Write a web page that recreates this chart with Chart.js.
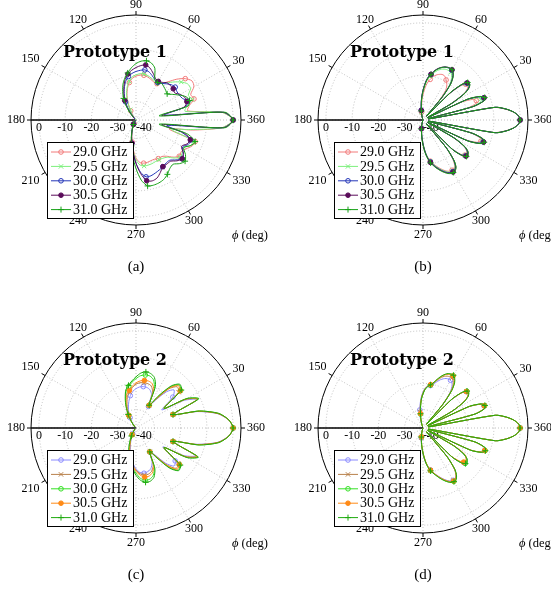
<!DOCTYPE html>
<html>
<head>
<meta charset="utf-8">
<script src="https://cdn.jsdelivr.net/npm/chart.js@4.4.1/dist/chart.umd.min.js"></script>
<style>
  body { margin: 0; width: 551px; height: 590px; overflow: hidden; background: #fff; position: relative; }
  canvas { position: absolute; }
  .cap { position: absolute; width: 40px; margin-left: -20px; text-align: center; font: 15px "Liberation Serif", serif; line-height: 16px; }
</style>
</head>
<body>
<canvas id="pa" width="280" height="300" style="left:0;top:0"></canvas>
<canvas id="pb" width="271" height="300" style="left:280px;top:0"></canvas>
<canvas id="pc" width="280" height="290" style="left:0;top:300px"></canvas>
<canvas id="pd" width="271" height="290" style="left:280px;top:300px"></canvas>
<div class="cap" style="left:136px;top:258px">(a)</div>
<div class="cap" style="left:423px;top:258px">(b)</div>
<div class="cap" style="left:136px;top:566px">(c)</div>
<div class="cap" style="left:423px;top:566px">(d)</div>
<script>
const freqs = ['29.0 GHz', '29.5 GHz', '30.0 GHz', '30.5 GHz', '31.0 GHz'];
const radialTicks = [-40, -30, -20, -10, 0];
const angleTicks = [30, 60, 90, 120, 150, 180, 210, 240, 270, 300, 330, 360];

// azimuth phi in degrees for the coarse cuts (a, c) and the fine cuts (b, d)
const phiCoarse = [135, 130, 125, 120, 115, 110, 105, 100, 95, 90, 85, 80, 75, 70, 65, 60, 55, 50, 45, 40,
  35, 30, 25, 20, 15, 10, 5, 0, -5, -10, -15, -20, -25, -30, -35, -40, -45, -50, -55, -60,
  -65, -70, -75, -80, -85, -90, -95, -100, -105, -110, -115, -120, -125, -130, -135];
const phiFine = [110, 107.5, 105, 102.5, 100, 97.5, 95, 92.5, 90, 87.5, 85, 82.5, 80, 77.5, 75, 72.5, 70, 67.5,
  65, 62.5, 60, 57.5, 55, 52.5, 50, 47.5, 45, 42.5, 40, 37.5, 35, 32.5, 30, 27.5, 25, 22.5, 20, 17.5, 15, 12.5,
  10, 7.5, 5, 2.5, 0, -2.5, -5, -7.5, -10, -12.5, -15, -17.5, -20, -22.5, -25, -27.5, -30, -32.5, -35, -37.5,
  -40, -42.5, -45, -47.5, -50, -52.5, -55, -57.5, -60, -62.5, -65, -67.5, -70, -72.5, -75, -77.5, -80, -82.5,
  -85, -87.5, -90, -92.5, -95, -97.5, -100, -102.5, -105, -107.5, -110];

// Prototype 1, coarse cut (a), normalised gain in dB
const a29_0 = [-37,-36.5,-35,-33,-30,-27,-24.5,-22.5,-21,-20.3,-19.8,-19.7,-20,-20.5,-21,-21,-20,-18,-15,-12.5,
  -11,-11.5,-14,-13.5,-16,-17,-4,0,-4,-15,-24,-13,-13.5,-15,-16,-15.5,-17,-19,
  -20,-20,-20.5,-20.5,-20.3,-20.3,-20.8,-22.5,-25.5,-28.5,-31,-33,-34.5,-35.5,-36,-36.5,-37];
const a29_5 = [-37,-36.5,-34.5,-32.5,-29.5,-26.5,-24,-22,-20.5,-19.8,-19.3,-19.2,-19.5,-20,-20.5,-20.5,-19.8,-18.5,-16.5,-14.5,
  -13,-13,-15,-14.2,-17,-18,-4,0,-4,-16,-23,-13.5,-14,-16,-15.5,-15,-16.5,-18.5,
  -19.2,-19.5,-19.5,-19.3,-19.2,-19.2,-19.8,-21.8,-25,-28,-30.5,-32.5,-34,-35.2,-36,-36.5,-37];
const a30_0 = [-36.5,-35,-32,-29,-26.5,-24,-21.8,-20.2,-19.2,-18.5,-18,-17.6,-18,-19,-20,-20.5,-20,-19,-18,-17.5,
  -18,-18,-17.5,-16,-17.5,-26,-3.5,0,-3.5,-25,-19,-14.8,-15,-16.5,-15,-14,-15.5,-17,
  -17,-16.5,-16,-15.5,-15,-15,-17,-20.5,-24.5,-28,-30.5,-32.5,-34,-35.2,-36,-36.5,-37];
const a30_5 = [-36,-34,-31,-28.4,-26,-23.5,-21,-19.2,-18,-17,-16.2,-15.7,-16.5,-18,-19.5,-20,-19.5,-18.5,-18.5,-18.5,
  -19,-17.5,-16.5,-16.4,-18,-27,-3.5,0,-3.5,-27,-18,-15,-15.5,-17,-15,-14,-15,-16.5,
  -16.5,-16.5,-15,-13.5,-13,-13.5,-16.5,-20.5,-24.5,-28,-30.5,-32.5,-34,-35,-35.8,-36.3,-36.6];
const a31_0 = [-35.5,-33.5,-30.5,-27.5,-25,-22.5,-20.5,-18.8,-17,-15.5,-14.5,-14.1,-14.5,-16,-20,-20.5,-20,-20.5,-21,-21.5,
  -20,-18,-16,-15.3,-16.5,-28,-3,0,-3,-28,-17,-13,-14,-16,-14,-12.6,-13.5,-15,
  -14.5,-13.1,-12,-11.5,-11.3,-11.5,-14,-18.5,-23,-27,-30,-32.5,-34,-35,-35.8,-36.3,-36.6];

// Prototype 1, fine cut (b)
const b29_0 = [-37,-36.7,-35.9,-35,-34,-32.8,-31,-29.2,-27.4,-25.6,-23.8,-22.4,-21.3,-20.3,-19.5,-18.9,-18.5,-18.2,-18.2,-18.6,
  -19.4,-20.2,-21.2,-23,-28,-35,-23.5,-18,-15.8,-15.4,-16.4,-19,-25.5,-35,-21,-16.5,-15.4,-15.6,-19.5,-35,-9.5,-5.3,-2.4,-0.6,0,
  -0.6,-2.4,-5.3,-9.5,-35,-18.6,-14,-13.5,-14.8,-19.3,-35,-24,-18.8,-16.8,-16.1,-16.2,-17.8,-21.8,-35,-23.8,
  -18.5,-16,-15.1,-14.9,-15,-15.5,-16.3,-17.2,-18.2,-19.1,-20.1,-21.1,-22.4,-24,-26,-28,-29.8,-31.4,-32.8,-33.8,-34.8,-35.6,-36.3,-37];
const b29_5 = [-37,-36.6,-35.7,-34.7,-33.7,-32.3,-30.3,-28.3,-26.3,-24.4,-22.5,-21,-20,-18.8,-17.8,-17,-16.4,-16,-15.8,-15.8,
  -16,-16.7,-18.2,-20.8,-26.5,-35,-23,-17.5,-15.4,-15,-16,-18.6,-25,-35,-19.5,-15,-13.5,-13.9,-18.2,-35,-9.3,-5.2,-2.4,-0.6,0,
  -0.6,-2.4,-5.2,-9.3,-35,-18.3,-13.6,-13,-14.3,-18.8,-35,-23.8,-18.6,-16.6,-15.9,-16,-17.6,-21.6,-35,-23.6,
  -18.2,-15.7,-14.8,-14.6,-14.7,-15.2,-16,-16.9,-17.9,-18.9,-20,-21.1,-22.5,-24.2,-26.2,-28.2,-30,-31.6,-33,-34,-34.9,-35.7,-36.3,-37];
const b30_0 = [-37,-36.4,-35.4,-34.3,-33.2,-31.6,-29.6,-27.6,-25.6,-23.6,-21.7,-20.2,-19.4,-18.1,-17.1,-16.3,-15.7,-15.2,-15,-14.9,
  -15.1,-15.8,-17.3,-20,-26,-35,-22.8,-17.2,-15.2,-14.8,-15.8,-18.4,-24.8,-35,-18.5,-13.9,-12.4,-12.8,-17.4,-35,-9.2,-5.1,-2.3,-0.6,0,
  -0.6,-2.3,-5.1,-9.2,-35,-17.9,-13.2,-12.6,-13.9,-18.4,-35,-23.5,-18.4,-16.4,-15.7,-15.8,-17.4,-21.4,-35,-23.4,
  -17.9,-15.4,-14.5,-14.3,-14.4,-14.9,-15.7,-16.6,-17.6,-18.6,-19.7,-20.8,-22.2,-23.9,-25.9,-27.9,-29.7,-31.3,-32.7,-33.7,-34.7,-35.6,-36.3,-37];
const b30_5 = [-37,-36.5,-35.5,-34.5,-33.3,-31.8,-29.8,-27.8,-25.8,-23.8,-21.8,-20.3,-19.3,-18,-17,-16.2,-15.6,-15.1,-14.8,-14.7,
  -14.9,-15.6,-17.2,-19.8,-25.5,-35,-22.5,-17,-15,-14.6,-15.6,-18.2,-24.5,-35,-18.3,-13.7,-12.2,-12.6,-17.2,-35,-9.1,-5.1,-2.3,-0.6,0,
  -0.6,-2.3,-5.1,-9.1,-35,-17.7,-13,-12.4,-13.7,-18.2,-35,-23.3,-18.2,-16.2,-15.5,-15.6,-17.2,-21.2,-35,-23.2,
  -17.7,-15.2,-14.3,-14.1,-14.2,-14.7,-15.5,-16.4,-17.4,-18.4,-19.5,-20.6,-22,-23.7,-25.7,-27.7,-29.5,-31.2,-32.6,-33.6,-34.6,-35.5,-36.2,-37];
const b31_0 = [-37,-36.5,-35.5,-34.5,-33.5,-32,-30,-28,-26,-24,-22,-20.5,-19.5,-18.2,-17.2,-16.4,-15.7,-15.2,-14.9,-14.8,
  -14.9,-15.6,-17,-19.5,-25,-35,-22,-16.8,-14.8,-14.5,-15.5,-18,-24,-35,-18,-13.5,-12,-12.5,-17,-35,-9,-5,-2.3,-0.6,0,
  -0.6,-2.3,-5,-9,-35,-17.5,-12.8,-12.2,-13.5,-18,-35,-23,-18,-16,-15.3,-15.4,-17,-21,-35,-23,
  -17.5,-15,-14.1,-13.9,-14,-14.5,-15.3,-16.2,-17.2,-18.2,-19.3,-20.4,-21.8,-23.5,-25.5,-27.5,-29.3,-31,-32.5,-33.5,-34.5,-35.5,-36.2,-37];

// Prototype 2, coarse cut (c)
const c29_0 = [-36.5,-35.8,-34.5,-32.5,-30.5,-28.5,-26.5,-24.5,-23,-22,-21.3,-21,-21,-21.5,-23,-27.5,-24,-19,-16.5,-18.7,
  -25,-16,-11.5,-22,-12.8,-5.5,-1.6,0,-1.6,-5.5,-13,-22,-12,-16,-24.5,-17.5,-16.5,-19.5,
  -24.5,-26.5,-22.5,-20.5,-19.8,-19.5,-20,-21.5,-23.5,-26,-28.5,-31,-33,-34.5,-35.5,-36.2,-36.7];
const c29_5 = [-36.5,-35.5,-34,-32,-29.5,-27,-24.5,-23,-21.5,-20.3,-19.7,-19.5,-19.5,-20,-22,-27,-23.5,-17.5,-14.8,-15.8,
  -24,-15,-11.3,-22,-12.5,-5.3,-1.6,0,-1.6,-5.3,-12.7,-22,-11.5,-15.3,-24,-16,-15.3,-18.5,
  -24,-26.5,-21.5,-19.5,-18.8,-18.8,-19.5,-21,-23,-25.5,-28,-30.5,-32.5,-34.2,-35.3,-36,-36.5];
const c30_0 = [-36.5,-35.5,-33.8,-31.5,-28.5,-25.5,-22.5,-21,-19.5,-18.2,-17,-16.5,-16.5,-17.5,-20.5,-27,-22.5,-16.5,-13.8,-14.8,
  -24,-14.5,-10.8,-22,-12,-5,-1.5,0,-1.5,-5,-12.2,-22,-11,-14.5,-24,-15.3,-14.3,-17.5,
  -23.5,-26.5,-20.5,-17.8,-16.8,-16.8,-17.8,-19.8,-22,-24.5,-27,-29.5,-32,-34,-35.2,-36,-36.5];
const c30_5 = [-36.5,-35.5,-33.5,-31.4,-28.5,-26,-23.5,-22.5,-21,-19.8,-19,-18.6,-18.5,-19,-21,-27,-23,-17,-14.2,-15,
  -24,-15,-11,-22,-12.3,-5.2,-1.5,0,-1.5,-5.2,-12.5,-22,-11.2,-15,-24,-15.5,-14.8,-18,
  -23.5,-26.5,-21,-18.8,-18,-18,-19,-20.5,-22.5,-25,-27.5,-30,-32.3,-34,-35.2,-36,-36.5];
const c31_0 = [-36.5,-35.5,-33.5,-31,-28,-25,-22,-20.5,-19,-17.5,-16,-15.3,-15.5,-16.5,-19.5,-27,-22,-16,-13.4,-14.5,
  -24,-14.5,-10.6,-22,-12,-5,-1.5,0,-1.5,-5,-12,-22,-10.8,-14.5,-24,-15,-14,-17,
  -23,-26.5,-20,-17,-16,-16,-17,-19,-21.5,-24,-26.5,-29,-31.5,-33.5,-35,-36,-36.5];

// Prototype 2, fine cut (d)
const d29_0 = [-35.5,-34.5,-33,-31.5,-30,-28.3,-26.5,-24.8,-23.3,-22,-21.2,-20.8,-20.6,-20,-19.2,-18.3,-17.4,-16.7,-16.2,-16,
  -16,-16.5,-17.8,-20.3,-26,-35,-22,-17.4,-15.5,-15.3,-16.2,-18.8,-24.5,-35,-18,-13.4,-12.3,-12.6,-16.8,-35,-9.2,-5.1,-2.3,-0.6,0,
  -0.6,-2.3,-5.1,-9.2,-35,-16.8,-12.5,-12,-13,-17.2,-35,-23.7,-18.7,-16.8,-16.1,-16.2,-17.7,-21.7,-35,-22.8,
  -17.4,-15.2,-14.2,-14,-14.2,-14.9,-15.8,-16.8,-17.8,-18.8,-19.8,-20.8,-22,-23.5,-25.2,-27,-28.8,-30.4,-32,-33.2,-34.3,-35.2,-36,-36.7];
const d29_5 = [-36,-35,-33.8,-32.3,-30.8,-28.9,-27,-25.1,-23.6,-22.2,-21.3,-20.7,-20.4,-19.7,-18.7,-17.6,-16.5,-15.7,-15.2,-15,
  -15,-15.6,-17,-19.8,-25.5,-35,-21.8,-17.2,-15.3,-15.2,-16.1,-18.6,-24.2,-35,-17.8,-13.2,-12.1,-12.5,-16.7,-35,-9.1,-5.1,-2.3,-0.6,0,
  -0.6,-2.3,-5.1,-9.1,-35,-16.7,-12.4,-11.9,-13,-17.1,-35,-23.6,-18.6,-16.8,-16.3,-16.5,-18,-21.8,-35,-22.7,
  -17.2,-15,-14,-13.8,-14,-14.7,-15.6,-16.6,-17.6,-18.6,-19.6,-20.6,-21.9,-23.5,-25.3,-27.2,-29,-30.6,-32.1,-33.3,-34.4,-35.3,-36.1,-36.8];
const d30_0 = [-36.6,-35.6,-34.6,-33.1,-31.6,-29.6,-27.6,-25.6,-24.1,-22.6,-21.6,-20.9,-20.4,-19.6,-18.5,-17.2,-16,-15,-14.3,-14,
  -14,-14.7,-16.2,-19.2,-25.2,-35,-21.6,-17.1,-15.2,-15.1,-16.1,-18.6,-24.1,-35,-17.6,-13.1,-12,-12.4,-16.6,-35,-9,-5,-2.3,-0.6,0,
  -0.6,-2.3,-5,-9,-35,-16.6,-12.3,-11.8,-12.9,-17.1,-35,-23.6,-18.6,-16.6,-15.9,-16,-17.6,-21.6,-35,-22.6,
  -17.1,-14.8,-13.7,-13.5,-13.7,-14.4,-15.3,-16.3,-17.4,-18.5,-19.5,-20.5,-21.9,-23.6,-25.6,-27.6,-29.4,-30.9,-32.4,-33.6,-34.6,-35.5,-36.2,-37];
const d30_5 = [-36.5,-35.5,-34.4,-32.9,-31.4,-29.4,-27.4,-25.4,-23.9,-22.4,-21.4,-20.7,-20.2,-19.5,-18.4,-17.2,-16,-15,-14.4,-14.1,
  -14.1,-14.8,-16.3,-19.3,-25.3,-35,-21.8,-17.3,-15.4,-15.3,-16.3,-18.8,-24.3,-35,-17.8,-13.3,-12.2,-12.6,-16.8,-35,-9.1,-5.1,-2.3,-0.6,0,
  -0.6,-2.3,-5.1,-9.1,-35,-16.8,-12.5,-12,-13.1,-17.3,-35,-22.8,-17.8,-17,-16.5,-16.8,-18.5,-21.8,-35,-22.8,
  -17.3,-15,-13.9,-13.7,-13.9,-14.6,-15.5,-16.5,-17.6,-18.7,-19.7,-20.7,-22.1,-23.8,-25.8,-27.8,-29.5,-31,-32.5,-33.6,-34.6,-35.5,-36.2,-37];
const d31_0 = [-36.5,-35.5,-34.5,-33,-31.5,-29.5,-27.5,-25.5,-24,-22.5,-21.5,-20.8,-20.3,-19.5,-18.3,-17,-15.8,-14.8,-14.1,-13.8,
  -13.8,-14.5,-16,-19,-25,-35,-21.5,-17,-15.1,-15,-16,-18.5,-24,-35,-17.5,-13,-11.9,-12.3,-16.5,-35,-9,-5,-2.3,-0.6,0,
  -0.6,-2.3,-5,-9,-35,-16.5,-12.2,-11.7,-12.8,-17,-35,-23.5,-18.5,-16.5,-15.8,-15.9,-17.5,-21.5,-35,-22.5,
  -17,-14.7,-13.6,-13.4,-13.6,-14.3,-15.2,-16.2,-17.3,-18.4,-19.4,-20.4,-21.8,-23.5,-25.5,-27.5,-29.3,-30.8,-32.3,-33.5,-34.5,-35.5,-36.2,-37];

const colors1 = ['#f27a7a', '#7cf07c', '#2436b8', '#5a0c5a', '#16a016'];
const colors2 = ['#8a8aff', '#b8804a', '#34e024', '#ff8a16', '#1eaa0e'];
const marks = [
  { style: 'circle', filled: false },
  { style: 'crossRot', filled: false },
  { style: 'circle', filled: false },
  { style: 'circle', filled: true },
  { style: 'cross', filled: false },
];

// full ring of angular categories, continuing the sweep round the circle
function ring(phi, step) {
  const out = phi.slice();
  let a = phi[phi.length - 1] - step;
  while (out.length < Math.round(360 / step)) { out.push(a); a -= step; }
  return out;
}
const norm = a => ((a % 360) + 360) % 360;

function drawMark(ctx, m, x, y, color) {
  ctx.strokeStyle = color;
  ctx.fillStyle = color;
  ctx.lineWidth = 1;
  ctx.beginPath();
  if (m.style === 'circle') {
    ctx.arc(x, y, 2.3, 0, 2 * Math.PI);
    if (m.filled) ctx.fill();
    ctx.stroke();
    return;
  }
  const r = m.style === 'cross' ? 3 : 2.2;
  if (m.style === 'cross') {
    ctx.moveTo(x - r, y); ctx.lineTo(x + r, y);
    ctx.moveTo(x, y - r); ctx.lineTo(x, y + r);
  } else {
    ctx.moveTo(x - r, y - r); ctx.lineTo(x + r, y + r);
    ctx.moveTo(x - r, y + r); ctx.lineTo(x + r, y - r);
  }
  ctx.stroke();
}

const polarFrame = {
  id: 'polarFrame',
  beforeDatasetsDraw(chart) {
    const s = chart.scales.r, ctx = chart.ctx;
    const R = s.drawingArea, labels = chart.data.labels;
    const at = deg => labels.findIndex(l => norm(l) === norm(deg));
    ctx.save();
    ctx.strokeStyle = '#000';
    ctx.fillStyle = '#000';
    ctx.lineWidth = 1;
    ctx.beginPath();
    ctx.arc(s.xCenter, s.yCenter, R, 0, 2 * Math.PI);
    ctx.stroke();

    ctx.font = '12px "Liberation Serif"';
    ctx.textAlign = 'center';
    ctx.textBaseline = 'middle';
    angleTicks.forEach(deg => {
      const i = at(deg);
      const p0 = s.getPointPosition(i, R);
      const p1 = s.getPointPosition(i, R + 4);
      ctx.beginPath();
      ctx.moveTo(p0.x, p0.y);
      ctx.lineTo(p1.x, p1.y);
      ctx.stroke();
      const txt = String(deg);
      const w = ctx.measureText(txt).width + 6, h = 14;
      const p = s.getPointPosition(i, R + 3);
      const c = Math.cos(p.angle), sn = Math.sin(p.angle);
      const t = Math.min(Math.abs(c) > 1e-6 ? w / 2 / Math.abs(c) : Infinity,
                         Math.abs(sn) > 1e-6 ? h / 2 / Math.abs(sn) : Infinity);
      ctx.fillText(txt, p.x + c * t, p.y + sn * t);
    });

    // radial axis along 180 deg
    const i180 = at(180);
    const e = s.getPointPosition(i180, R);
    ctx.lineWidth = 1.4;
    ctx.beginPath();
    ctx.moveTo(s.xCenter, s.yCenter);
    ctx.lineTo(e.x, e.y);
    ctx.stroke();
    radialTicks.forEach(v => {
      const q = s.getPointPosition(i180, s.getDistanceFromCenterForValue(v));
      ctx.fillText(String(v), q.x, q.y + 8);
    });
    ctx.restore();
  },
  afterDraw(chart, args, opts) {
    const s = chart.scales.r, ctx = chart.ctx;
    const cx = s.xCenter, cy = s.yCenter;
    ctx.save();
    ctx.fillStyle = '#000';
    ctx.textBaseline = 'middle';
    ctx.textAlign = 'left';
    ctx.font = 'bold 16px "DejaVu Serif"';
    ctx.fillText(opts.title, cx - 73, cy - 67);

    ctx.font = 'italic 12.5px "Liberation Serif"';
    ctx.fillText('\u03d5', cx + 96, cy + 116);
    const pw = ctx.measureText('\u03d5').width;
    ctx.font = '12.5px "Liberation Serif"';
    ctx.fillText(' (deg)', cx + 96 + pw, cy + 116);

    // legend
    const lx = cx - 89, ly = cy + 22, lw = 86, lh = 76;
    ctx.fillStyle = '#fff';
    ctx.fillRect(lx, ly, lw, lh);
    ctx.strokeStyle = '#000';
    ctx.lineWidth = 1;
    ctx.strokeRect(lx + 0.5, ly + 0.5, lw, lh);
    ctx.font = '14px "Liberation Serif"';
    chart.data.datasets.forEach((ds, k) => {
      const y = ly + 10 + k * 14.4;
      ctx.strokeStyle = ds.borderColor;
      ctx.lineWidth = 1;
      ctx.beginPath();
      ctx.moveTo(lx + 4, y);
      ctx.lineTo(lx + 24, y);
      ctx.stroke();
      drawMark(ctx, marks[k], lx + 14, y, ds.borderColor);
      ctx.fillStyle = '#000';
      ctx.fillText(ds.label, lx + 26, y + 0.5);
    });
    ctx.restore();
  }
};

function makeChart(id, title, phi, step, series, colors, padding) {
  const labels = ring(phi, step);
  const datasets = series.map((data, k) => ({
    label: freqs[k],
    data,
    borderColor: colors[k],
    backgroundColor: colors[k],
    borderWidth: 1,
    fill: false,
    tension: 0.25,
    spanGaps: false,
    order: series.length - 1 - k,
    pointStyle: marks[k].style,
    pointRadius: c => labels[c.dataIndex] % 20 === 0 ? (marks[k].style === 'circle' ? 2.3 : 3) : 0,
    pointBorderWidth: 1,
    pointBorderColor: colors[k],
    pointBackgroundColor: marks[k].filled ? colors[k] : 'rgba(0,0,0,0)',
  }));
  return new Chart(document.getElementById(id), {
    type: 'radar',
    data: { labels, datasets },
    options: {
      responsive: false,
      animation: false,
      devicePixelRatio: 1,
      events: [],
      layout: { padding },
      plugins: { legend: { display: false }, tooltip: { enabled: false }, polarFrame: { title } },
      scales: {
        r: {
          min: -37,
          max: 3,
          startAngle: 90 - labels[0],
          ticks: { display: false },
          pointLabels: { display: false },
          afterBuildTicks: sc => { sc.ticks = [-37, -30, -20, -10, 0].map(value => ({ value })); },
          grid: { circular: true, color: '#b4b4b4', lineWidth: 0.8 },
          border: { dash: [1, 2] },
          angleLines: {
            color: '#b4b4b4',
            lineWidth: c => norm(labels[c.index]) % 30 === 0 ? 0.8 : 0,
            borderDash: [1, 2],
          },
        },
      },
    },
    plugins: [polarFrame],
  });
}

makeChart('pa', 'Prototype 1', phiCoarse, 5, [a29_0, a29_5, a30_0, a30_5, a31_0], colors1,
  { left: 31, top: 15, right: 39, bottom: 75 });
makeChart('pb', 'Prototype 1', phiFine, 2.5, [b29_0, b29_5, b30_0, b30_5, b31_0], colors1,
  { left: 38, top: 15, right: 23, bottom: 75 });
makeChart('pc', 'Prototype 2', phiCoarse, 5, [c29_0, c29_5, c30_0, c30_5, c31_0], colors2,
  { left: 31, top: 23, right: 39, bottom: 57 });
makeChart('pd', 'Prototype 2', phiFine, 2.5, [d29_0, d29_5, d30_0, d30_5, d31_0], colors2,
  { left: 38, top: 23, right: 23, bottom: 57 });
</script>
</body>
</html>
